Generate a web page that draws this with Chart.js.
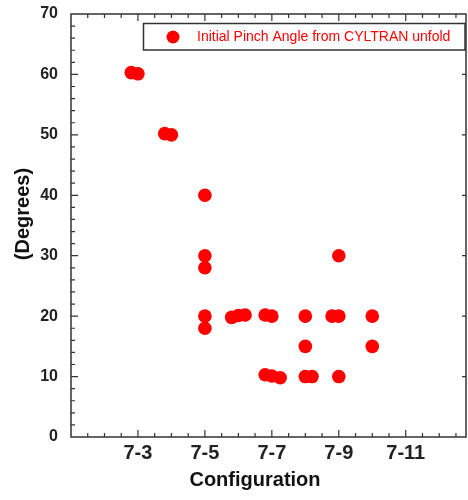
<!DOCTYPE html>
<html>
<head>
<meta charset="utf-8">
<script src="https://cdn.jsdelivr.net/npm/chart.js@4.4.1/dist/chart.umd.min.js"></script>
<style>
  html, body { margin: 0; padding: 0; background: #fff; }
  #wrap { width: 468px; height: 500px; }
</style>
</head>
<body>
<div id="wrap"><canvas id="c" width="468" height="500"></canvas></div>
<script>
// Configuration index (7-x) and initial pinch angle
const configX = [2.8, 3.0, 3.8, 4.0, 5.0, 5.0, 5.0, 5.0, 5.0, 5.8, 6.0, 6.2, 6.8, 7.0,
                 6.8, 7.0, 7.25, 8.0, 8.0, 8.0, 8.2, 8.8, 9.0, 9.0, 9.0, 10.0, 10.0];
const angleY = [60.3, 60.1, 50.2, 50.0, 40.0, 30.0, 28.0, 20.0, 18.0, 19.8, 20.1, 20.2, 20.2, 20.0,
                10.3, 10.1, 9.8, 20.0, 15.0, 10.0, 10.0, 20.0, 20.0, 30.0, 10.0, 20.0, 15.0];
const xTickLabels = ['7-3', '7-5', '7-7', '7-9', '7-11'];
const xTickValues = [3, 5, 7, 9, 11];
const seriesLabel = 'Initial Pinch Angle from CYLTRAN unfold';

const frameColor = '#333';
const fontFam = '"Liberation Sans", Arial, Helvetica, sans-serif';

// frame, inward ticks, titles and boxed legend
const decor = {
  id: 'decor',
  afterDraw(chart) {
    const { ctx, chartArea: a, scales: { x, y } } = chart;
    ctx.save();
    ctx.strokeStyle = frameColor;
    ctx.lineWidth = 1.5;
    ctx.strokeRect(a.left, a.top, a.right - a.left, a.bottom - a.top);

    ctx.lineWidth = 1.2;
    ctx.beginPath();
    for (let v = x.min; v <= x.max + 1e-6; v += 0.5) {
      const px = x.getPixelForValue(v);
      if (px <= a.left + 1 || px >= a.right - 1) continue;
      const len = (Math.abs(v % 2 - 1) < 1e-6) ? 7 : 4;
      ctx.moveTo(px, a.bottom); ctx.lineTo(px, a.bottom - len);
      ctx.moveTo(px, a.top); ctx.lineTo(px, a.top + len);
    }
    for (let v = y.min; v <= y.max; v += 2) {
      const py = y.getPixelForValue(v);
      if (py <= a.top + 1 || py >= a.bottom - 1) continue;
      const major = v % 10 === 0;
      const len = major ? 7 : 4;
      ctx.moveTo(a.left, py); ctx.lineTo(a.left + len, py);
      if (major) { ctx.moveTo(a.right, py); ctx.lineTo(a.right - 4, py); }
    }
    ctx.stroke();

    // axis titles
    ctx.fillStyle = '#111';
    ctx.font = 'bold 20px ' + fontFam;
    ctx.textAlign = 'center';
    ctx.textBaseline = 'middle';
    ctx.fillText('Configuration', 255, 480);
    ctx.save();
    ctx.translate(23, 214);
    ctx.rotate(-Math.PI / 2);
    ctx.fillText('(Degrees)', 0, 0);
    ctx.restore();

    // legend
    ctx.fillStyle = '#fff';
    ctx.fillRect(143.5, 23.5, 321.5, 26.5);
    ctx.lineWidth = 1.5;
    ctx.strokeStyle = frameColor;
    ctx.strokeRect(143.5, 23.5, 321.5, 26.5);
    ctx.fillStyle = '#ff0000';
    ctx.beginPath();
    ctx.arc(173, 37, 6.5, 0, Math.PI * 2);
    ctx.fill();
    ctx.font = '14px ' + fontFam;
    ctx.textAlign = 'left';
    ctx.fillText(seriesLabel, 197, 37.5);
    ctx.restore();
  }
};

const points = configX.map((v, i) => ({ x: v, y: angleY[i] }));

new Chart(document.getElementById('c'), {
  type: 'scatter',
  data: {
    datasets: [{
      label: seriesLabel,
      data: points,
      backgroundColor: '#ff0000',
      borderWidth: 0,
      pointRadius: 6.8,
      pointHoverRadius: 6.8
    }]
  },
  options: {
    responsive: false,
    animation: false,
    layout: { autoPadding: false, padding: { top: 14, right: 2, left: 0, bottom: 0 } },
    plugins: { legend: { display: false }, tooltip: { enabled: false } },
    scales: {
      x: {
        type: 'linear',
        min: 1,
        max: 12.8,
        grid: { display: false, drawTicks: false },
        border: { display: false },
        afterFit: (s) => { s.height = 63; s.paddingLeft = 0; s.paddingRight = 0; },
        afterBuildTicks: (s) => { s.ticks = xTickValues.map(v => ({ value: v })); },
        ticks: {
          autoSkip: false,
          maxRotation: 0,
          padding: 4,
          color: '#222',
          font: { family: fontFam, size: 20, weight: 'bold' },
          callback: (v) => {
            const i = xTickValues.indexOf(v);
            return i >= 0 ? xTickLabels[i] : '';
          }
        }
      },
      y: {
        min: 0,
        max: 70,
        grid: { display: false, drawTicks: false },
        border: { display: false },
        afterFit: (s) => { s.width = 71; s.paddingTop = 0; s.paddingBottom = 0; },
        ticks: {
          stepSize: 10,
          padding: 13,
          color: '#222',
          font: { family: fontFam, size: 16, weight: 'bold' }
        }
      }
    }
  },
  plugins: [decor]
});
</script>
</body>
</html>
